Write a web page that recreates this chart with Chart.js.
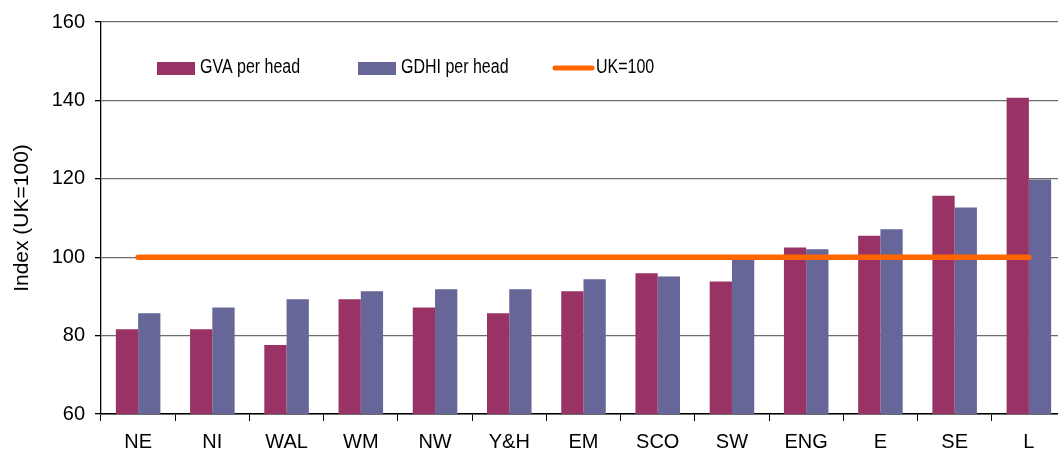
<!DOCTYPE html>
<html>
<head>
<meta charset="utf-8">
<script src="https://cdn.jsdelivr.net/npm/chart.js@4.4.1/dist/chart.umd.min.js"></script>
<style>
  html, body { margin: 0; padding: 0; background: #fff; overflow: hidden; }
  #wrap { width: 1066px; height: 456px; }
</style>
</head>
<body>
<div id="wrap"><canvas id="c" width="1066" height="456"></canvas></div>
<script>
const categories = ["NE", "NI", "WAL", "WM", "NW", "Y&H", "EM", "SCO", "SW", "ENG", "E", "SE", "L"];
const gvaPerHead = [81.6, 81.6, 77.6, 89.3, 87.2, 85.7, 91.3, 95.9, 93.8, 102.5, 105.5, 115.7, 140.7];
const gdhiPerHead = [85.7, 87.2, 89.3, 91.3, 91.8, 91.8, 94.4, 95.1, 99.7, 102.0, 107.1, 112.7, 119.8];
const ukIndex = [100, 100, 100, 100, 100, 100, 100, 100, 100, 100, 100, 100, 100];
const yTicks = [60, 80, 100, 120, 140, 160];
const seriesLabels = ["GVA per head", "GDHI per head", "UK=100"];
const yTitle = "Index (UK=100)";

const FONT = '"Liberation Sans", Arial, sans-serif';

const insideLegend = {
  id: 'insideLegend',
  afterDatasetsDraw(chart) {
    const ctx = chart.ctx;
    const a = chart.chartArea;
    const items = [
      { ds: chart.data.datasets[0], x: 56 },
      { ds: chart.data.datasets[1], x: 257 },
      { ds: chart.data.datasets[2], x: 452 }
    ];
    const cy = 68;
    const squeeze = 0.82;
    ctx.save();
    ctx.textBaseline = 'middle';
    items.forEach(it => {
      const x0 = a.left + it.x;
      if (it.ds.type === 'line') {
        ctx.strokeStyle = it.ds.borderColor;
        ctx.lineWidth = 5;
        ctx.lineCap = 'round';
        ctx.beginPath();
        ctx.moveTo(x0 + 2, cy);
        ctx.lineTo(x0 + 39, cy);
        ctx.stroke();
      } else {
        ctx.fillStyle = it.ds.backgroundColor;
        ctx.fillRect(x0, cy - 6, 38, 13);
      }
      ctx.save();
      ctx.translate(x0 + 43, cy);
      ctx.scale(squeeze, 1);
      ctx.font = '19.5px ' + FONT;
      ctx.fillStyle = '#000';
      ctx.fillText(it.ds.label, 0, 0);
      ctx.restore();
    });
    ctx.restore();
  }
};

new Chart(document.getElementById('c'), {
  data: {
    labels: categories,
    datasets: [
      { type: 'bar', label: seriesLabels[0], data: gvaPerHead, backgroundColor: '#993366', order: 1,
        categoryPercentage: 0.6, barPercentage: 1.0 },
      { type: 'bar', label: seriesLabels[1], data: gdhiPerHead, backgroundColor: '#666699', order: 1,
        categoryPercentage: 0.6, barPercentage: 1.0 },
      { type: 'line', label: seriesLabels[2], data: ukIndex, borderColor: '#FF6600', backgroundColor: '#FF6600',
        borderWidth: 5.5, borderCapStyle: 'round', pointRadius: 0, order: 0, tension: 0 }
    ]
  },
  options: {
    responsive: false,
    animation: false,
    devicePixelRatio: 1,
    layout: { padding: { top: 21, right: 0, left: 0, bottom: 0 } },
    plugins: {
      legend: { display: false },
      tooltip: { enabled: false }
    },
    scales: {
      x: {
        type: 'category',
        offset: true,
        grid: { offset: true, drawOnChartArea: false, drawTicks: true, tickLength: 7, tickColor: '#000', tickWidth: 1 },
        border: { display: true, color: '#000', width: 1.5 },
        ticks: { color: '#000', font: { family: FONT, size: 20 }, padding: 9, maxRotation: 0, autoSkip: false },
        afterFit(scale) { scale.height = 42; }
      },
      y: {
        min: 60, max: 160,
        afterBuildTicks(scale) { scale.ticks = yTicks.map(v => ({ value: v })); },
        grid: { color: '#6e6e6e', lineWidth: 1.3, drawTicks: true, tickLength: 6, tickColor: '#000' },
        border: { display: true, color: '#000', width: 1.3 },
        ticks: { color: '#000', font: { family: FONT, size: 20 }, padding: 10 },
        title: { display: true, text: yTitle, color: '#000', font: { family: FONT, size: 21 }, padding: { top: 10, bottom: 0 } },
        afterFit(scale) { scale.width = 101; }
      }
    }
  },
  plugins: [insideLegend]
});
</script>
</body>
</html>
